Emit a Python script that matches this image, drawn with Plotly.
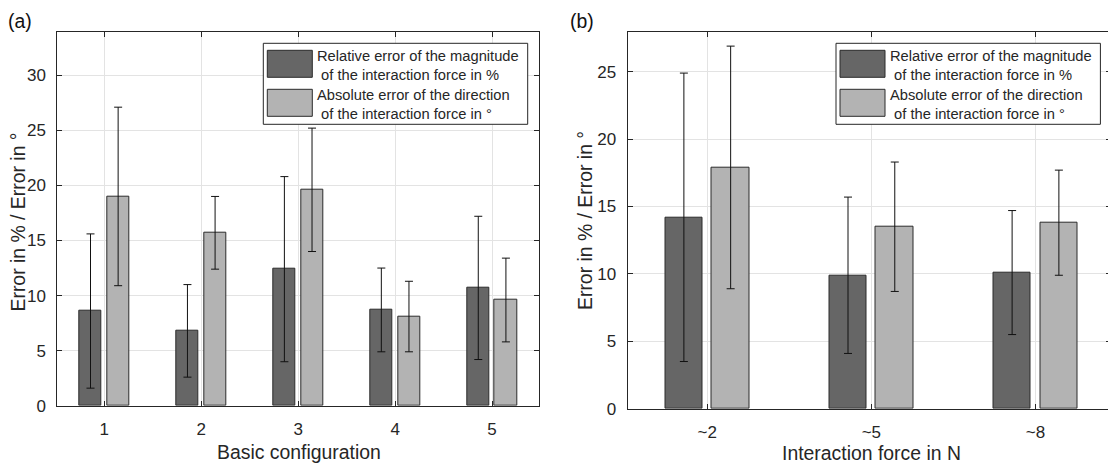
import plotly.graph_objects as go

# page body has an 8px margin; the figure fills the rest of the 1116x466 window
OFF = 8
W, H = 1116 - OFF, 466 - OFF

# ---- data panel (a)
cfg_a = [1, 2, 3, 4, 5]
mag_a = [8.6, 6.8, 12.4, 8.7, 10.7]
mag_a_up = [7.0, 4.2, 8.4, 3.8, 6.5]
mag_a_dn = [7.0, 4.2, 8.4, 3.8, 6.5]
dir_a = [19.0, 15.7, 19.6, 8.1, 9.6]
dir_a_up = [8.1, 3.3, 5.6, 3.2, 3.8]
dir_a_dn = [8.1, 3.3, 5.6, 3.2, 3.8]

# ---- data panel (b)
cfg_b = [1, 2, 3]
cfg_b_labels = ["~2", "~5", "~8"]
mag_b = [14.2, 9.9, 10.1]
mag_b_up = [10.7, 5.8, 4.6]
mag_b_dn = [10.7, 5.8, 4.6]
dir_b = [17.9, 13.5, 13.8]
dir_b_up = [9.0, 4.8, 3.9]
dir_b_dn = [9.0, 4.8, 3.9]

legend_lines = [
    ["Relative error of the magnitude", " of the interaction force in %"],
    ["Absolute error of the direction", " of the interaction force in °"],
]

DARK = "#666666"
LIGHT = "#b3b3b3"
EDGE = "#2b2b2b"
ERRC = "#111111"
TXT = "#262626"
FONT = "Liberation Sans, Arial, sans-serif"
TICK_SIZE = 17
TITLE_SIZE = 19.4
LEG_SIZE = 14.7

BW = 0.23
GAP = 0.055

def px(x):
    return (x - OFF) / W

def py(y):
    return 1 - (y - OFF) / H

fig = go.Figure()

def add_pair(xs, m, mu, md, d, du, dd, xa, ya):
    fig.add_trace(go.Bar(
        x=xs, y=m, width=BW, offset=-BW - GAP / 2,
        marker=dict(color=DARK, line=dict(color=EDGE, width=1)),
        error_y=dict(type="data", array=mu, arrayminus=md, symmetric=False,
                     color=ERRC, thickness=1, width=4),
        xaxis=xa, yaxis=ya, showlegend=False))
    fig.add_trace(go.Bar(
        x=xs, y=d, width=BW, offset=GAP / 2,
        marker=dict(color=LIGHT, line=dict(color=EDGE, width=1)),
        error_y=dict(type="data", array=du, arrayminus=dd, symmetric=False,
                     color=ERRC, thickness=1, width=4),
        xaxis=xa, yaxis=ya, showlegend=False))

add_pair(cfg_a, mag_a, mag_a_up, mag_a_dn, dir_a, dir_a_up, dir_a_dn, "x", "y")
add_pair(cfg_b, mag_b, mag_b_up, mag_b_dn, dir_b, dir_b_up, dir_b_dn, "x2", "y2")

axis_common = dict(
    showline=True, linecolor=TXT, linewidth=1, mirror="ticks",
    ticks="inside", ticklen=5, tickcolor=TXT, tickwidth=1,
    showgrid=True, gridcolor="#e3e3e3", gridwidth=1,
    zeroline=False, tickfont=dict(family=FONT, size=TICK_SIZE, color=TXT),
    automargin=False,
)

fig.update_layout(
    width=W, height=H, margin=dict(l=0, r=0, t=0, b=0, pad=0, autoexpand=False),
    paper_bgcolor="white", plot_bgcolor="white",
    barmode="overlay", bargap=0,
    font=dict(family=FONT, color=TXT),
    xaxis=dict(axis_common, domain=[px(57.3), px(539.4)], range=[0.515, 5.488],
               tickvals=cfg_a, ticktext=[str(c) for c in cfg_a],
               ticklabelstandoff=8, anchor="y"),
    yaxis=dict(axis_common, domain=[py(405.8), py(31.7)], range=[0, 33.95],
               tickvals=[0, 5, 10, 15, 20, 25, 30], ticklabelstandoff=7,
               anchor="x"),
    xaxis2=dict(axis_common, domain=[px(627.5), px(1111)], range=[0.514, 3.46],
                tickvals=cfg_b, ticktext=cfg_b_labels,
                ticklabelstandoff=8, anchor="y2"),
    yaxis2=dict(axis_common, domain=[py(408.7), py(31.7)], range=[0, 27.97],
                tickvals=[0, 5, 10, 15, 20, 25], ticklabelstandoff=7,
                anchor="x2"),
)

shapes = []
annots = []

def add_legend(bx0, by0, bx1, by1, sx0, sx1, sw_y, tx):
    shapes.append(dict(type="rect", xref="paper", yref="paper",
                       x0=px(bx0), x1=px(bx1), y0=py(by1), y1=py(by0),
                       line=dict(color=TXT, width=1), fillcolor="white", layer="above"))
    for (y0, y1), col, lines in zip(sw_y, [DARK, LIGHT], legend_lines):
        shapes.append(dict(type="rect", xref="paper", yref="paper",
                           x0=px(sx0), x1=px(sx1), y0=py(y1), y1=py(y0),
                           line=dict(color=EDGE, width=1), fillcolor=col, layer="above"))
        ymid = (y0 + y1) / 2 + 1.5
        annots.append(dict(xref="paper", yref="paper", x=px(tx), y=py(ymid),
                           text=lines[0] + "<br>" + lines[1].replace(" ", "&nbsp;", 1),
                           showarrow=False, xanchor="left", yanchor="middle", align="left",
                           font=dict(family=FONT, size=LEG_SIZE, color=TXT)))

LEG_DX = 572.7
add_legend(263.3, 43.3, 527.7, 124.3, 267.3, 312.3, [(50.3, 77.3), (89.3, 116.3)], 315)
add_legend(263.3 + LEG_DX, 43.3, 527.7 + LEG_DX, 124.3, 267.3 + LEG_DX, 312.3 + LEG_DX,
           [(50.3, 77.3), (89.3, 116.3)], 315 + LEG_DX)

def label(x, y, text, size, angle=0, color=TXT):
    annots.append(dict(xref="paper", yref="paper", x=px(x), y=py(y), text=text,
                       textangle=angle, showarrow=False, xanchor="center",
                       yanchor="middle", font=dict(family=FONT, size=size, color=color)))

# axis titles and panel labels
label(298.5, 451.5, "Basic configuration", TITLE_SIZE)
label(871.5, 453, "Interaction force in N", TITLE_SIZE)
label(17.5, 222, "Error in % / Error in °", TITLE_SIZE, -90)
label(585, 221, "Error in % / Error in °", TITLE_SIZE, -90)
label(20.3, 20.5, "(a)", TITLE_SIZE, color="#111")
label(582.3, 20.5, "(b)", TITLE_SIZE, color="#111")

fig.update_layout(shapes=shapes, annotations=annots)
fig.write_html("out.html")
